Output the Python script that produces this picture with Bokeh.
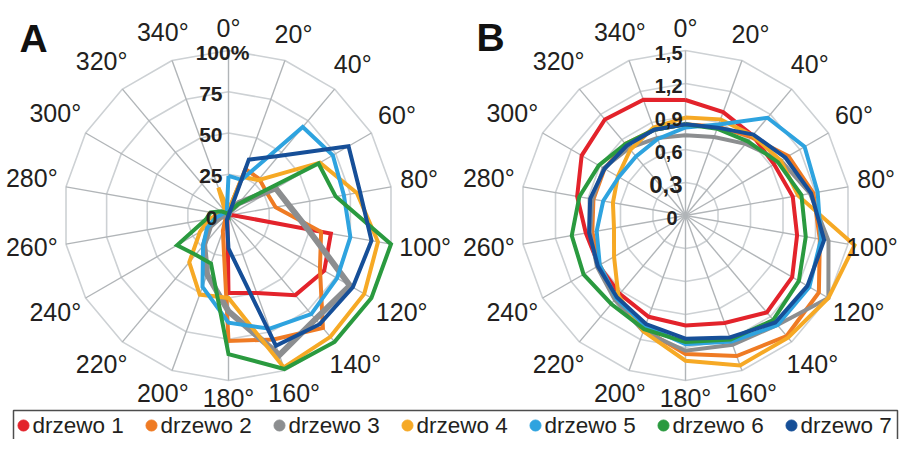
import math
from bokeh.plotting import figure
from bokeh.models import Range1d
from bokeh.embed import file_html
from bokeh.resources import INLINE
from bokeh.core.properties import value

# ---------------- data ----------------
angles = [0, 20, 40, 60, 80, 100, 120, 140, 160, 180, 200, 220, 240, 260, 280, 300, 320, 340]
angle_labels = ["0°", "20°", "40°", "60°", "80°", "100°", "120°", "140°", "160°",
                "180°", "200°", "220°", "240°", "260°", "280°", "300°", "320°", "340°"]

names = ["drzewo 1", "drzewo 2", "drzewo 3", "drzewo 4", "drzewo 5", "drzewo 6", "drzewo 7"]
colors = ["#e3232b", "#ef7b24", "#8c8e90", "#f6a925", "#2ea3df", "#2a9a3f", "#164f98"]

# panel A (%)
a_ticks = [0, 25, 50, 75, 100]
a_tick_labels = ["0", "25", "50", "75", "100%"]
a_d1 = [0, 0, 0, 0, 2, 63, 67, 63, 50, 47, 2, 0, 0, 0, 0, 0, 0, 0]
a_d2 = [3, 30, 29, 27, 29, 57, 64, 89, 80, 76, 10, 3, 0, 0, 0, 0, 0, 0]
a_d3 = [0, 3, 10, 33, 37, 49, 85, 82, 90, 58, 38, 23, 13, 5, 2, 0, 0, 0]
a_d4 = [3, 25, 28, 64, 79, 92, 95, 96, 98, 50, 51, 37, 20, 12, 5, 3, 3, 18]
a_d5 = [24, 23, 70, 73, 71, 75, 76, 78, 73, 65, 46, 24, 15, 8, 4, 3, 2, 3]
a_d6 = [2, 3, 9, 63, 66, 100, 100, 100, 99, 84, 31, 31, 36, 14, 11, 5, 2, 0]
a_d7 = [0, 36, 47, 84, 81, 88, 87, 86, 84, 20, 3, 0, 0, 0, 0, 0, 0, 0]

# panel B
b_ticks = [0, 0.3, 0.6, 0.9, 1.2, 1.5]
b_tick_labels = ["0", "0,3", "0,6", "0,9", "1,2", "1,5"]
b_d1 = [1.05, 1.0, 0.95, 0.93, 0.99, 1.03, 1.12, 1.15, 1.04, 1.0, 0.98, 0.93, 0.91, 0.92, 1.0, 1.09, 1.14, 1.12]
b_d2 = [0.83, 0.86, 0.93, 1.08, 1.18, 1.24, 1.4, 1.43, 1.36, 1.26, 1.1, 0.98, 0.9, 0.86, 0.85, 0.85, 0.85, 0.83]
b_d3 = [0.73, 0.76, 0.85, 1.0, 1.15, 1.32, 1.5, 1.3, 1.25, 1.23, 1.12, 1.0, 0.93, 0.88, 0.86, 0.86, 0.8, 0.75]
b_d4 = [0.89, 0.93, 0.95, 1.0, 1.04, 1.56, 1.5, 1.45, 1.45, 1.32, 1.12, 0.95, 0.75, 0.66, 0.67, 0.71, 0.78, 0.85]
b_d5 = [0.8, 0.88, 1.16, 1.25, 1.22, 1.25, 1.3, 1.3, 1.22, 1.17, 1.07, 0.98, 0.9, 0.82, 0.76, 0.7, 0.7, 0.74]
b_d6 = [0.83, 0.84, 0.88, 0.97, 1.07, 1.11, 1.19, 1.24, 1.2, 1.15, 1.1, 1.05, 1.07, 1.05, 0.98, 0.91, 0.85, 0.83]
b_d7 = [0.83, 0.85, 0.96, 1.05, 1.16, 1.28, 1.28, 1.27, 1.18, 1.12, 1.05, 0.97, 0.92, 0.89, 0.88, 0.85, 0.83, 0.83]

a_series = [a_d1, a_d2, a_d3, a_d4, a_d5, a_d6, a_d7]
b_series = [b_d1, b_d2, b_d3, b_d4, b_d5, b_d6, b_d7]

# ---------------- layout ----------------
W, H = 899, 439
FONT = "Liberation Sans"
TXT = "#231f20"
R = 165

p = figure(width=W, height=H, output_backend="svg", toolbar_location=None,
           x_range=Range1d(0, W), y_range=Range1d(H, 0),
           x_axis_location=None, y_axis_location=None, min_border=0,
           background_fill_color="white", border_fill_color="white")
p.xgrid.visible = False
p.ygrid.visible = False
p.outline_line_color = None


def pol(cx, cy, r, deg):
    t = math.radians(deg)
    return cx + r * math.sin(t), cy - r * math.cos(t)


def radar(cx, cy, ticks, tick_labels, series, letter, lx, ly, gray_w, label_right, zero_right,
          tick_fs, big_idx=None):
    vmax = ticks[-1]
    # rings
    for tv in ticks[1:]:
        pts = [pol(cx, cy, R * tv / vmax, a) for a in angles]
        pts.append(pts[0])
        p.line([q[0] for q in pts], [q[1] for q in pts], line_color="#cdd1d4", line_width=1.6)
    # spokes
    for a in angles:
        x1, y1 = pol(cx, cy, R, a)
        p.line([cx, x1], [cy, y1], line_color="#b1b5b8", line_width=1.4)
    # series
    for i, vals in enumerate(series):
        pts = [pol(cx, cy, R * v / vmax, a) for a, v in zip(angles, vals)]
        pts.append(pts[0])
        p.line([q[0] for q in pts], [q[1] for q in pts], line_color=colors[i],
               line_width=(gray_w if i == 2 else 4), line_join="miter")
    # angle labels
    fs = 25
    for a, lab in zip(angles, angle_labels):
        w = fs * (0.5 * (len(lab) - 1) + 0.3)
        h = 0.72 * fs
        t = math.radians(a)
        rl = R + 11 + abs(math.sin(t)) * w / 2 + abs(math.cos(t)) * h / 2
        x, y = pol(cx, cy, rl, a)
        x = min(x, W - 2 - w / 2 - 3)
        p.text([x], [y - 3], text=[lab], text_font=value(FONT), text_font_size=f"{fs}px",
               text_color=TXT, text_align="center", text_baseline="middle")
    # radial tick labels
    for k, (tv, lab) in enumerate(zip(ticks, tick_labels)):
        y = cy - R * tv / vmax + 2
        size = "24px" if (big_idx is not None and k == big_idx) else f"{tick_fs}px"
        if lab.endswith("%"):
            p.text([cx - 6], [y], text=[lab], text_font=value(FONT), text_font_size=size,
                   text_font_style="bold", text_color=TXT, text_align="center", text_baseline="middle")
        else:
            xr = cx - zero_right if tv == 0 else cx - label_right
            p.text([xr], [y], text=[lab], text_font=value(FONT), text_font_size=size,
                   text_font_style="bold", text_color=TXT, text_align="right", text_baseline="middle")
    # panel letter
    p.text([lx], [ly], text=[letter], text_font=value(FONT), text_font_size="39px",
           text_font_style="bold", text_color="#111111", text_align="center", text_baseline="middle")


radar(228, 215, a_ticks, a_tick_labels, a_series, "A", 33, 38, 6, 6, 11, 21)
radar(685, 215, b_ticks, b_tick_labels, b_series, "B", 490, 37, 4, 3, 8, 20, big_idx=1)

# ---------------- legend ----------------
p.quad(left=[13], right=[897], top=[410], bottom=[450], fill_color=None,
       line_color="#4d4d4d", line_width=1.5)
x0, step = 23, 128
for i, nm in enumerate(names):
    xd = x0 + i * step
    p.scatter([xd], [425], size=11, color=colors[i], marker="circle")
    p.text([xd + 9], [425], text=[nm], text_font=value(FONT), text_font_size="22.5px",
           text_color=TXT, text_align="left", text_baseline="middle")

open("out.html", "w").write(file_html(p, INLINE))
